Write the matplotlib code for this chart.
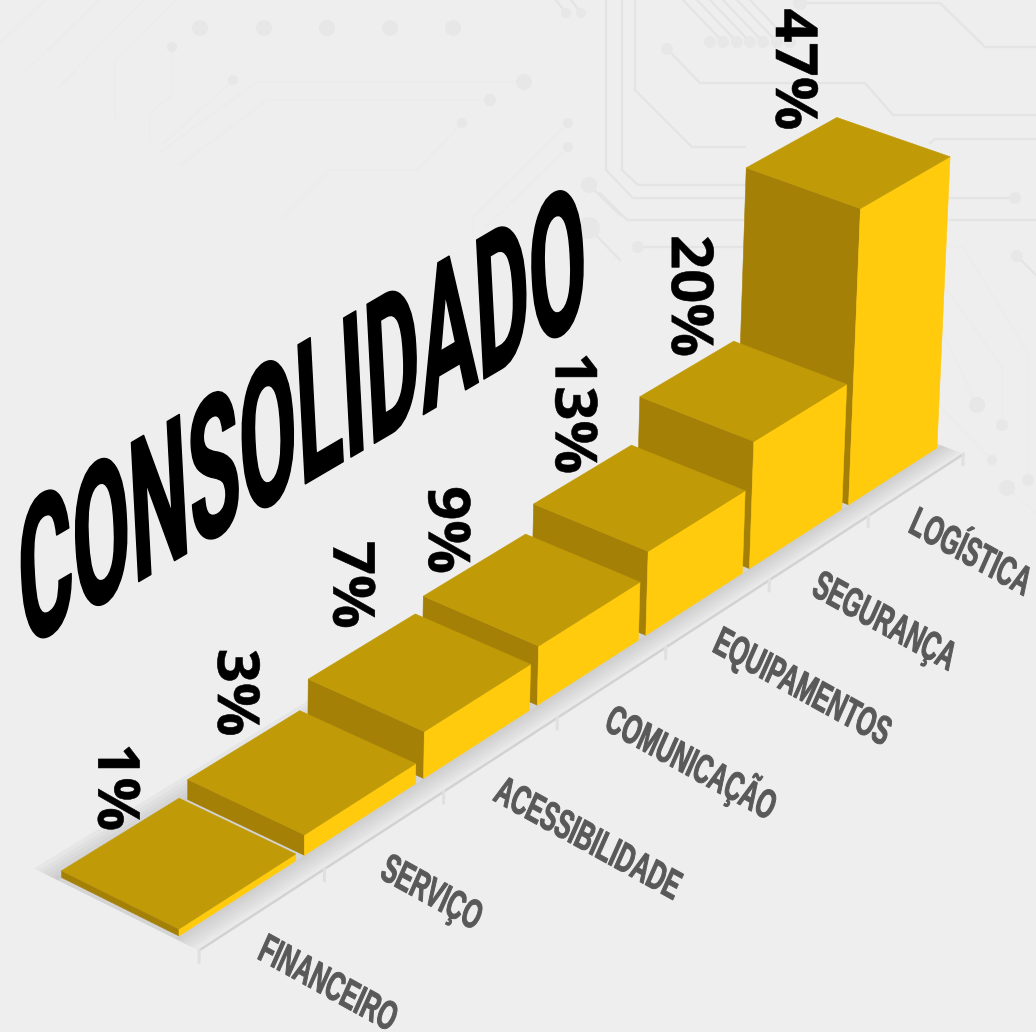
import matplotlib
matplotlib.use("Agg")
import matplotlib.pyplot as plt
from matplotlib.patches import Polygon, Circle
from matplotlib.patheffects import AbstractPathEffect
from matplotlib.transforms import Affine2D
import numpy as np

# chart data
categories = ["FINANCEIRO", "SERVIÇO", "ACESSIBILIDADE", "COMUNICAÇÃO",
              "EQUIPAMENTOS", "SEGURANÇA", "LOGÍSTICA"]
values = [1, 3, 7, 9, 13, 20, 47]
value_labels = ["1%", "3%", "7%", "9%", "13%", "20%", "47%"]
title = "CONSOLIDADO"

# colours
BG = "#eeeeee"
TOP = "#c09a07"
LEFT = "#a58006"
RIGHT = "#ffcb0c"
LABEL = "#595959"

# camera: vanishing points of the three floor/height directions, in pixels
s1, s2, s3 = 0.0252, 0.0173, -0.000427
camera = np.array([[s1 * 5277, s2 * -6720, s3 * 180, 179],
                   [s1 * -2347, s2 * -2500, s3 * 17200, 936],
                   [s1, s2, s3, 1]])

BAR_WIDTH = 0.93
AXIS_Y = -0.2
FLOOR_BACK = 1.2
X_START = -0.03


def project(x, y, z):
    p = camera @ np.array([x, y, z, 1.0])
    return p[0] / p[2], p[1] / p[2]


def quad(ax, pts, color, zorder=3):
    ax.add_patch(Polygon([project(*p) for p in pts], closed=True, facecolor=color,
                         edgecolor=color, linewidth=0.4, zorder=zorder))


class Stretch(AbstractPathEffect):
    # scales and shears the glyphs around the middle of the text
    def __init__(self, sx=1.0, sy=1.0, skew=0.0, stroke=0.0):
        super().__init__()
        self.sx = sx
        self.sy = sy
        self.skew = skew
        self.stroke = stroke

    def draw_path(self, renderer, gc, tpath, affine, rgbFace=None):
        box = tpath.get_extents()
        cx, cy = box.x0 + box.width / 2, box.y0 + box.height / 2
        t = Affine2D().translate(-cx, -cy).scale(self.sx, self.sy).skew_deg(self.skew, 0).translate(cx, cy)
        gc0 = renderer.new_gc()
        gc0.copy_properties(gc)
        gc0.set_linewidth(self.stroke)
        gc0.set_foreground(rgbFace)
        renderer.draw_path(gc0, tpath, t + affine, rgbFace)
        gc0.restore()


fig = plt.figure(figsize=(10.36, 10.32), dpi=100, facecolor=BG)
ax = fig.add_axes([0, 0, 1, 1])
ax.set_xlim(0, 1036)
ax.set_ylim(1032, 0)
ax.axis("off")

# circuit board decoration behind the chart
faint_traces = [
    [(45, 0), (0, 43)], [(99, 0), (24, 73)], [(144, 0), (59, 87)],
    [(176, 0), (115, 60), (115, 117)], [(172, 47), (172, 95), (150, 113), (150, 140)],
    [(233, 80), (164, 143)], [(524, 82), (257, 82), (160, 152)],
    [(490, 100), (267, 100), (180, 165)], [(462, 123), (417, 170), (330, 170), (283, 217)],
    [(568, 123), (473, 217), (473, 233)], [(568, 147), (486, 227)],
    [(945, 247), (963, 247), (1028, 353), (1028, 420)],
    [(947, 290), (1002, 367), (1002, 425)], [(943, 333), (977, 405)],
    [(940, 407), (992, 460)], [(1028, 400), (1028, 480)], [(1007, 488), (1036, 513)],
]
strong_traces = [
    [(800, 3), (940, 3), (985, 47), (1036, 47)],
    [(667, 49), (700, 83), (865, 83), (893, 115), (1036, 115)],
    [(930, 143), (935, 139), (1036, 139)],
    [(635, 0), (635, 90), (692, 147), (745, 147)],
    [(622, 0), (622, 170), (638, 185), (745, 185)],
    [(606, 0), (606, 170), (633, 198), (745, 198)],
    [(600, 193), (627, 220), (745, 220)],
    [(950, 198), (1015, 198)], [(950, 220), (1036, 220)],
    [(638, 247), (745, 247)],
    [(1017, 256), (1036, 275)],
    [(589, 185), (620, 215)], [(589, 228), (620, 260)],
    [(750, 0), (790, 42)], [(737, 0), (777, 42)], [(723, 0), (763, 42)],
    [(710, 0), (750, 42)], [(697, 0), (737, 42)], [(683, 0), (723, 42)],
    [(566, 13), (556, 0)], [(581, 13), (571, 0)],
]
trace_dots = [
    (200, 28, 8), (264, 28, 8), (327, 28, 8), (390, 28, 8), (453, 28, 8),
    (566, 13, 5), (581, 13, 5), (172, 47, 5), (233, 80, 5), (524, 82, 8), (490, 100, 6),
    (462, 123, 5), (568, 123, 5), (568, 147, 5), (589, 185, 8), (589, 228, 11),
    (710, 42, 6), (723, 42, 6), (737, 42, 6), (750, 42, 6), (763, 42, 6), (777, 42, 6), (790, 42, 6),
    (800, 3, 7), (667, 49, 6), (1015, 198, 6), (638, 247, 6), (1017, 256, 6),
    (977, 405, 8), (1002, 425, 6), (992, 460, 5), (1007, 488, 8), (1028, 480, 6),
]
for trace in faint_traces:
    ax.plot(*zip(*trace), color="#ececec", linewidth=1.4, zorder=1)
for trace in strong_traces:
    ax.plot(*zip(*trace), color="#e4e4e4", linewidth=1.6, zorder=1)
for cx, cy, r in trace_dots:
    ax.add_patch(Circle((cx, cy), r, facecolor="#e7e7e7", edgecolor="none", zorder=1))

# floor, darker close to the bars
x_end = X_START + len(categories)
front_edges = np.linspace(AXIS_Y, 0.0, 9)
for i in range(8):
    g = 0.925 - 0.115 * i / 7
    quad(ax, [(X_START, front_edges[i], 0), (x_end, front_edges[i], 0),
              (x_end, front_edges[i + 1], 0), (X_START, front_edges[i + 1], 0)], str(g), zorder=2)
quad(ax, [(X_START, 0, 0), (x_end, 0, 0), (x_end, 1, 0), (X_START, 1, 0)], "#d4d4d4", zorder=2)
back_edges = np.linspace(1.0, FLOOR_BACK, 7)
for i in range(6):
    g = 0.80 + 0.10 * i / 5
    quad(ax, [(X_START, back_edges[i], 0), (x_end, back_edges[i], 0),
              (x_end, back_edges[i + 1], 0), (X_START, back_edges[i + 1], 0)], str(g), zorder=2)

# category axis and ticks
ax.plot(*zip(project(X_START, AXIS_Y, 0), project(x_end, AXIS_Y, 0)),
        color="#d2d2d2", linewidth=1.8, zorder=2.5)
for i in range(len(categories) + 1):
    ax.plot(*zip(project(X_START + i, AXIS_Y, 0), project(X_START + i, AXIS_Y, -1.7)),
            color="#e0e0e0", linewidth=2.2, zorder=2.5)

# bars, from back to front
for i in reversed(range(len(values))):
    x0, x1, v = i, i + BAR_WIDTH, values[i]
    z = 3 + (len(values) - i) * 0.1
    quad(ax, [(x0, 0, 0), (x0, 1, 0), (x0, 1, v), (x0, 0, v)], LEFT, zorder=z)
    quad(ax, [(x0, 0, 0), (x1, 0, 0), (x1, 0, v), (x0, 0, v)], RIGHT, zorder=z)
    quad(ax, [(x0, 0, v), (x1, 0, v), (x1, 1, v), (x0, 1, v)], TOP, zorder=z)

# value labels, placed from the bar's back corner
value_offsets = [(-66, -11), (-67, -18), (-67, -29), (-82, -4), (-61, -32), (-47, -45), (-46, -48)]
for i, label in enumerate(value_labels):
    bx, by = project(i + BAR_WIDTH, 1, values[i])
    ax.text(bx + value_offsets[i][0], by + value_offsets[i][1], label, rotation=-90,
            rotation_mode="anchor", ha="center", va="center", color="black",
            family="Open Sans", weight="bold", fontsize=43, zorder=6,
            path_effects=[Stretch(sy=0.97, stroke=0.4)])

# category labels follow the axis, below each bar
label_offsets = [(66, 74), (47, 64), (87, 84), (80, 79), (84, 75), (65, 75), (55, 66)]
for i, label in enumerate(categories):
    bx, by = project(i + BAR_WIDTH / 2, AXIS_Y, 0)
    ax.text(bx + label_offsets[i][0], by + label_offsets[i][1], label, rotation=-29,
            rotation_mode="anchor", ha="center", va="center", color=LABEL,
            family="Liberation Sans", weight="bold", fontsize=17.7, zorder=6,
            path_effects=[Stretch(sy=1.64, skew=-5, stroke=0.7)])

ax.text(306, 420, title, rotation=30.4, rotation_mode="anchor", ha="center", va="center",
        color="black", family="Roboto", weight="bold", fontsize=62, zorder=6,
        path_effects=[Stretch(sx=1.115, sy=2.02, skew=27.4, stroke=1.0)])

fig.savefig("out.png", dpi=100, facecolor=BG)
